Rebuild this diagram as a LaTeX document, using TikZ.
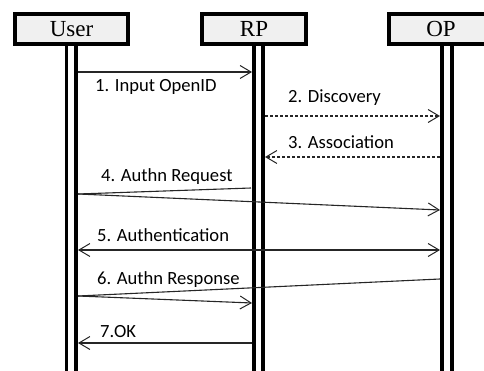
\documentclass[tikz,border=0pt]{standalone}
\usepackage{fontspec}
\setmainfont{Liberation Serif}
\newfontfamily\msgfont{Carlito}
\usetikzlibrary{arrows.meta}

\begin{document}
\begin{tikzpicture}[x=1pt, y=-1pt,
  actor/.style={draw, line width=3.6pt, fill=black!6, minimum height=30pt, inner sep=0pt, font=\fontsize{23}{23}\selectfont},
  life/.style={line width=3.4pt},
  msg/.style={line width=1.1pt, draw=black!85, -{Straight Barb[length=11pt, width=13pt, line width=1pt]}},
  line/.style={line width=1.1pt, draw=black!85},
  ret/.style={msg, dash pattern=on 3pt off 2pt},
  lbl/.style={anchor=base west, inner sep=0pt, font=\msgfont\fontsize{18.6}{18.6}\selectfont}]
\useasboundingbox (0,0) rectangle (484,371);
\coordinate (ua) at (66.7,371);
\coordinate (ub) at (75.8,371);
\coordinate (ra) at (254,371);
\coordinate (rb) at (263,371);
\coordinate (oa) at (442,371);
\coordinate (ob) at (452,371);
\draw [life] (66.7,40) -- (ua);
\draw [life] (75.8,40) -- (ub);
\draw [life] (254,40) -- (ra);
\draw [life] (263,40) -- (rb);
\draw [life] (442,40) -- (oa);
\draw [life] (452,40) -- (ob);
\node [actor, minimum width=113pt] (user) at (71.5,29) {User};
\node [actor, minimum width=104pt] (rp) at (254,29) {RP};
\node [actor, minimum width=104pt] (op) at (441,29) {OP};
\coordinate (u1) at (78,72);   \coordinate (r1) at (252,72);
\coordinate (r2) at (265,116); \coordinate (o2) at (440,116);
\coordinate (o3) at (440,157); \coordinate (r3) at (265,157);
\coordinate (r4) at (251,188); \coordinate (u4) at (78,194); \coordinate (o4) at (440,210);
\coordinate (u5) at (78,250);  \coordinate (o5) at (440,250);
\coordinate (o6) at (440,279); \coordinate (u6) at (78,296); \coordinate (r6) at (252,303);
\coordinate (r7) at (252,343); \coordinate (u7) at (78,343);
\draw [msg] (u1) -- (r1);
\node [lbl] (l1) at (95,92) {1. Input OpenID};
\draw [ret] (r2) -- (o2);
\node [lbl] (l2) at (288,103) {2. Discovery};
\draw [ret] (o3) -- (r3);
\node [lbl] (l3) at (288,149) {3. Association};
\draw [line] (r4) -- (u4);
\draw [msg] (u4) -- (o4);
\node [lbl] (l4) at (101,182) {4. Authn Request};
\draw [msg, {Straight Barb[length=11pt, width=13pt, line width=1pt]}-{Straight Barb[length=11pt, width=13pt, line width=1pt]}] (u5) -- (o5);
\node [lbl] (l5) at (97,241) {5. Authentication};
\draw [line] (o6) -- (u6);
\draw [msg] (u6) -- (r6);
\node [lbl] (l6) at (97,284) {6. Authn Response};
\draw [msg] (r7) -- (u7);
\node [lbl] (l7) at (100,337) {7.OK};
\end{tikzpicture}
\end{document}
